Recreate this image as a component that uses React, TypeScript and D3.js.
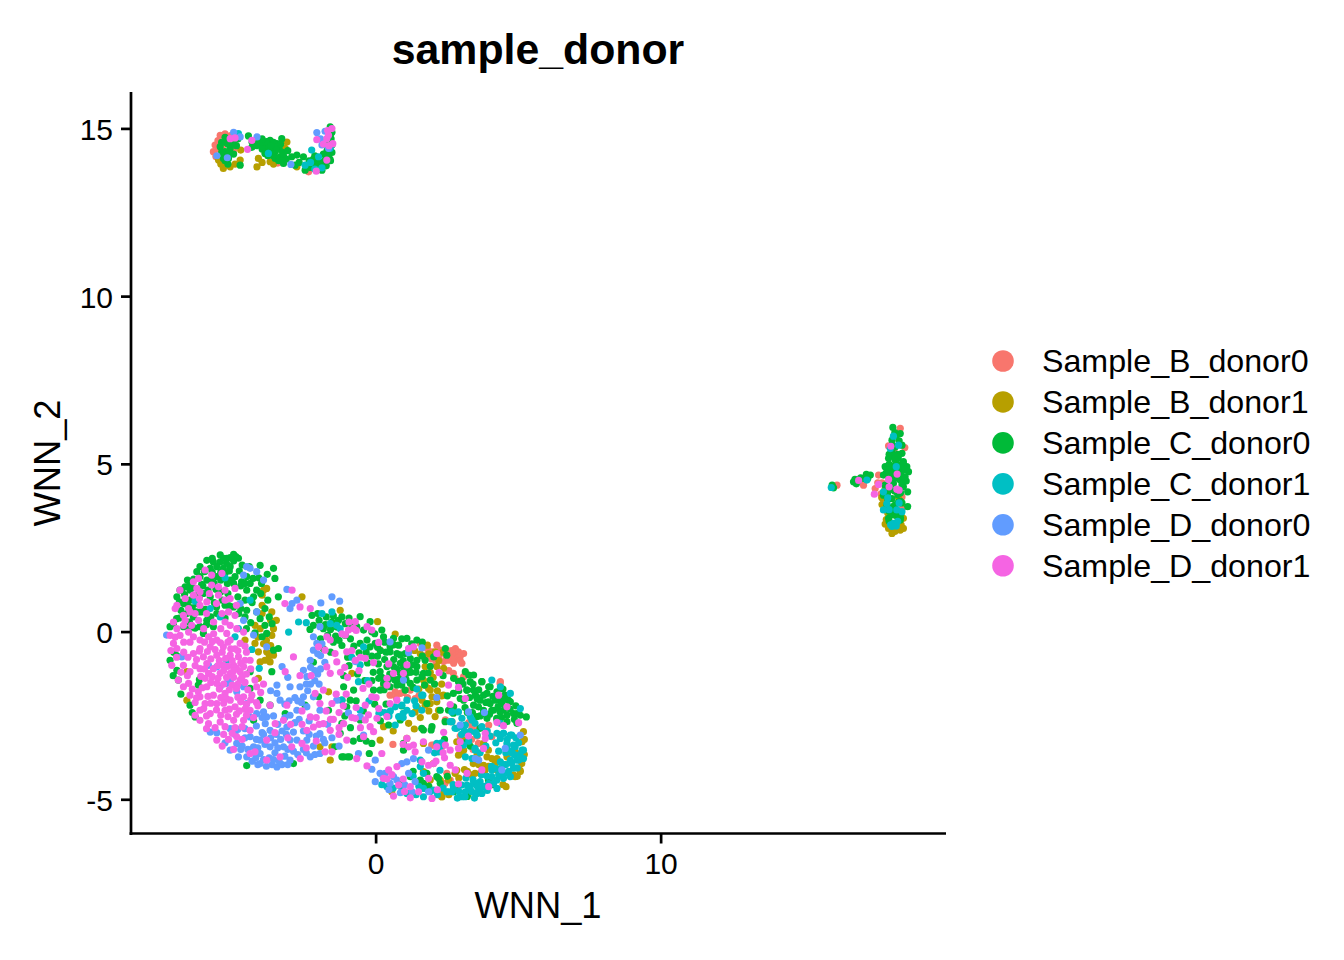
import * as d3 from "d3";

const seriesNames = [
  "Sample_B_donor0",
  "Sample_B_donor1",
  "Sample_C_donor0",
  "Sample_C_donor1",
  "Sample_D_donor0",
  "Sample_D_donor1",
];
const seriesColors = ["#F8766D", "#B79F00", "#00BA38", "#00BFC4", "#619CFF", "#F564E3"];
const xTickValues = [0, 10];
const yTickValues = [-5, 0, 5, 10, 15];

type Pt = [number, number];

const sampleB0: Pt[] = [
  [2.72,-.64],[2.89,-.59],[3.07,-.64],[2.83,-.79],[3.01,-.93],[2.72,-.93],[2.78,-.49],[2.13,-.39],[2.25,-.54],[1.96,-.59],
  [2.37,-.88],[2.54,-.84],[1.55,-.34],[.14,-.54],[.85,-1.83],[.49,-1.88],[.67,-1.78],[1.2,-1.73],[1.37,-1.98],[2.43,-2.62],
  [.59,-3.35],[4.36,-1.48],[3.95,-2.77],[3.6,-2.87],[3.36,-2.87],[5.06,-3.62],[2.6,-4.41],[2.48,-4.21],[2.31,-3.42],[2.02,-3.37],
  [2.66,-2.67],[2.6,-.75],[2.95,-.72],[2.45,-.7],[1.8,-.5],[2.71,-1.23],[3.07,-1.33],[2.77,-1.38],[4.35,-1.53],[3.24,-3.02],
  [3.59,-3.32],[1.95,-3.37],[4.06,-3.12],[2.42,-4.51],[2.55,-1.15],[3.25,-2.7],[2.95,-3.1],[.25,-1.65],[.7,-1.95],
  [2.65,-.55],[2.5,-.55],[2.95,-.85],[2.65,-.78],[2.2,-.72],[1.95,-.8],[2.1,-.95],[.95,-1.8],[1.5,-1.9],[1.1,-1.95],
  [3.35,-3.2],[3.55,-3.1],[3.4,-3.5],[1.75,-.7],
  [-5.65,14.52],[-5.47,14.81],[-5.71,14.32],[-5.0,14.37],[-2.37,13.72],[-2.26,13.92],[-3.6,14.22],[-5.4,14.45],[-5.55,14.65],[-5.62,14.18],[-3.45,13.98],
  [-5.55,14.4],[-5.3,14.85],[-5.1,14.8],
  [17.63,4.68],[17.51,4.28],[18.39,6.07],[17.1,4.38],[18.45,4.03],[17.8,3.93],[16.17,4.38],[18.21,5.33],[17.6,4.45],[17.72,4.12],[18.46,3.7],
  [17.75,4.45],[18.35,4.2],[18.55,5.5],[17.98,5.55],
];

const sampleB1: Pt[] = [
  [.05,.31],[.67,-.06],[1.8,-.39],[2.07,-.59],[2.37,-1.08],[2.13,-1.03],[1.72,-1.03],[1.66,-1.43],[1.84,-1.68],[1.96,-1.93],
  [1.61,-2.03],[2.19,-2.33],[2.07,-2.52],[1.37,-2.38],[1.14,-2.72],[.26,-2.82],[.14,-3.22],[1.34,-2.89],[-.85,-1.23],[1.66,-3.32],
  [1.08,-3.17],[2.83,-3.27],[3.07,-3.52],[3.54,-3.67],[3.89,-3.72],[4.24,-3.77],[4.59,-3.72],[5.12,-3.27],[5.17,-2.97],[5.12,-3.82],
  [5.06,-4.16],[4.82,-4.26],[4.24,-4.11],[3.65,-4.21],[3.77,-3.97],[3.36,-4.26],[2.54,-4.41],[2.31,-4.91],[.55,-4.76],[2.37,-4.76],
  [3.07,-3.22],[1.9,-1.2],[1.5,-1.7],[2.3,-1.9],[1.72,-2.18],[1.9,-2.13],[2.13,-2.08],[2.36,-1.88],[1.72,-1.58],[1.9,-1.73],
  [3.77,-3.32],[3.94,-3.52],[4.06,-3.77],[4.18,-3.92],[4.88,-3.57],[5.11,-3.92],[5.05,-4.12],[4.88,-4.31],[4.56,-4.61],[3.82,-4.12],
  [3.47,-4.21],[2.77,-4.21],[2.3,-4.91],[3.24,-4.81],[2.89,-3.67],[3.0,-3.62],[3.41,-3.92],[2.83,-4.12],[2.25,-4.41],[1.66,-4.16],
  [2.01,-3.92],[1.9,-4.41],[2.2,-.85],[1.55,-.65],[2.0,-1.35],[1.45,-2.25],[.6,-2.95],
  [4.95,-4.3],[5.2,-3.65],[5.2,-3.2],[3.95,-4.0],[3.6,-3.95],[3.1,-4.1],[2.9,-4.35],[3.2,-4.15],[4.45,-4.55],[2.55,-4.85],
  [1.55,-2.55],[1.85,-2.35],[2.15,-1.75],[2.3,-1.55],[1.85,-.65],[2.35,-.6],[1.35,-.55],
  [-3.95,1.25],[-3.84,1.3],[-4.0,.8],[-3.66,.6],[-4.25,.2],[-4.07,.1],[-3.6,.1],[-3.66,-.1],[-4.6,-.24],[-4.25,-.34],
  [-4.13,-.59],[-3.84,-.59],[-3.6,-.69],[-3.9,-.84],[-4.07,-.89],[-3.72,-.89],[-4.13,-1.38],[-1.61,-3.82],[-2.6,1.05],[-1.26,.65],
  [-6.64,-1.18],[-6.64,-2.03],[-1.67,-1.78],[-1.97,-3.42],[-1.55,-3.42],[-3.95,-.35],[-3.75,-.7],[-4.0,1.1],[-3.5,.35],
  [-4.0,.55],[-3.7,.35],[-3.85,-.25],[-3.7,-.4],[-4.15,-.15],
  [-5.53,14.07],[-5.36,13.82],[-5.12,13.87],[-4.75,14.37],[-4.77,14.07],[-4.18,13.87],[-4.13,14.12],[-3.72,14.02],[-3.13,14.61],[-3.19,14.42],[-2.78,13.87],[-5.45,13.95],[-4.0,14.0],[-3.6,13.95],
  [-5.25,13.95],[-4.95,13.95],
  [17.86,3.22],[18.1,2.94],[18.5,3.09],[17.74,4.01],[17.86,4.28],[18.33,4.03],[18.5,3.39],[17.98,3.09],[18.39,3.04],[18.2,3.0],[18.42,3.2],[17.95,3.55],
  [18.1,3.2],[18.3,3.08],[17.9,3.35],[17.75,3.8],[18.35,3.3],
];

const sampleC0: Pt[] = [
  [-5.94,2.14],[-5.71,2.09],[-5.47,2.3],[-5.47,2.09],[-5.24,2.2],[-5.0,2.32],[-5.0,2.12],[-4.83,2.2],[-5.12,1.95],[-5.36,1.9],
  [-5.59,1.95],[-5.82,1.9],[-6.18,1.95],[-6.29,1.8],[-6.53,1.45],[-6.7,1.35],[-6.82,1.25],[-6.53,1.25],[-6.18,1.65],[-5.94,1.55],
  [-5.59,1.65],[-5.3,1.75],[-4.95,1.65],[-4.54,1.65],[-4.07,1.99],[-3.6,1.9],[-3.55,1.6],[-3.43,1.05],[-4.42,1.45],[-4.19,1.25],
  [-4.54,1.25],[-4.54,.65],[-4.19,.6],[-3.9,.7],[-4.07,.4],[-3.9,.2],[-3.84,-.04],[-3.6,-.54],[-3.43,-.49],[-3.66,-1.18],
  [-4.42,-1.18],[-4.0,-.14],[-6.88,1.25],[-6.99,1.05],[-6.76,.85],[-6.53,.95],[-6.29,.85],[-6.06,1.15],[-5.82,1.05],[-6.64,.55],
  [-6.41,.45],[-7.11,.25],[-7.23,.16],[-6.76,.16],[-6.18,.16],[-5.94,.35],[-5.59,.55],[-6.06,-.04],[-5.71,.16],[-7.23,-.84],
  [-6.99,-1.14],[-6.94,-1.43],[-6.24,-1.58],[-6.53,-2.18],[-6.35,-2.53],[-4.54,-3.98],[-2.9,-3.92],[-4.42,-1.68],[-4.07,-2.03],[-3.72,-2.18],
  [-2.49,-2.18],[-3.19,-2.43],[-4.3,-2.63],[-2.2,-.9],[-2.02,-1.93],[-1.2,-2.03],[-1.67,-2.33],[-1.45,-3.42],[-1.2,-3.72],[-1.0,-3.72],
  [-2.2,.2],[-2.0,.35],[-1.85,.1],[-1.7,-.1],[-1.55,.3],[-1.38,.15],[-1.2,.45],[-1.08,-.1],[-1.5,-.3],[-1.2,-.4],
  [-1.85,-.5],[-1.6,-.6],[-1.0,-.75],[-1.14,-1.3],
  [-5.75,2.2],[-5.35,2.2],[-5.12,2.22],[-4.92,2.25],[-5.25,2.05],[-4.7,2.0],[-4.45,1.95],[-6.02,1.8],[-5.75,1.78],[-5.45,1.78],
  [-5.15,1.82],[-4.8,1.82],[-6.4,1.58],[-5.78,1.52],[-5.12,1.55],[-4.72,1.5],[-4.12,1.62],[-3.82,1.72],[-6.62,1.55],[-6.08,1.38],
  [-5.62,1.28],[-5.22,1.45],[-4.75,1.38],[-4.02,1.45],[-6.2,1.05],[-6.6,.78],[-6.0,.68],[-5.68,.88],[-5.4,.95],[-5.15,.78],
  [-4.85,1.05],[-4.6,.95],[-4.35,.88],[-6.3,.6],[-5.8,.45],[-5.3,.42],[-4.82,.55],[-4.4,.28],[-4.25,-.02],[-4.55,.1],
  [-6.9,.42],[-6.55,.3],[-6.35,.12],[-7.0,-.7],[-7.12,-1.3],[-6.85,-1.85],[-6.2,-1.42],[-6.45,-2.4],
  [-6.9,.9],[-6.72,1.12],[-6.45,1.32],[-6.3,1.08],[-6.12,1.42],[-5.9,1.25],[-5.68,1.45],[-5.45,1.55],[-5.45,1.2],[-5.2,1.15],
  [-5.0,1.45],[-4.6,1.45],[-4.32,1.6],[-4.3,1.05],[-4.05,1.15],[-3.8,.95],[-3.75,.45],[-3.65,.25],[-6.85,.65],[-6.45,.72],
  [-6.15,.6],[-5.95,.22],[-5.6,.75],[-5.3,.8],[-5.0,.75],[-4.75,.7],[-4.6,.45],[-6.55,.1],[-7.0,.4],[-7.1,-.6],
  [-2.25,.5],[-2.05,.55],[-1.75,.45],[-1.5,.48],[-1.32,.35],[-1.95,-.2],[-1.78,.22],[-1.6,.08],[-1.42,-.12],[-1.3,-.25],
  [-1.08,.25],[-.95,.42],[-.85,.18],[-.9,-.2],[-.78,-.42],[-.6,-.62],[-.35,-.6],[-.15,-.72],[-2.32,.08],
  [-.56,.46],[-.21,.31],[-.68,.16],[-.44,.06],[-.15,.01],[.2,.06],[.26,-.14],[.61,-.19],[1.08,-.19],[1.43,-.24],
  [-.32,-.24],[-.56,-.34],[-.21,-.44],[-.03,-.34],[.49,-.44],[.79,-.39],[.73,-.64],[.49,-.59],[1.02,-.64],[1.2,-.79],
  [1.43,-.84],[1.72,-.84],[2.02,-.74],[2.43,-.49],[2.48,-.69],[.85,-.93],[.61,-1.03],[.38,-1.03],[.14,-1.18],[.09,-1.38],
  [.26,-1.53],[-.09,-1.73],[.14,-1.73],[.85,-1.23],[1.08,-1.23],[1.43,-1.03],[1.66,-1.23],[1.9,-1.43],[1.61,-1.33],[1.2,-1.53],
  [1.43,-1.43],[1.02,-1.73],[.49,-1.63],[.73,-1.58],[3.13,-1.18],[3.42,-1.28],[2.72,-1.38],[2.89,-1.48],[3.71,-1.48],[3.95,-1.63],
  [3.19,-1.73],[3.48,-1.88],[3.89,-1.83],[4.24,-1.78],[3.65,-2.03],[4.0,-2.13],[4.36,-2.03],[4.71,-2.08],[3.42,-2.18],[3.77,-2.33],
  [4.12,-2.33],[4.47,-2.33],[4.82,-2.43],[5.06,-2.48],[5.27,-2.53],[3.07,-2.03],[2.72,-2.23],[4.24,-2.62],[3.89,-2.57],[3.54,-2.52],
  [4.59,-2.67],[4.94,-2.72],[2.25,-2.33],[1.78,-2.13],[-.56,-2.62],[-1.26,-3.02],[-1.2,-2.72],[-.91,-2.03],[-.79,-1.73],[-1.14,-1.63],
  [-1.03,-2.23],[-.56,-3.17],[-.15,-3.32],[-1.14,-3.72],[-.93,-3.72],[-.24,-3.62],[.96,-3.32],[.96,-3.52],[.14,-2.38],[.44,-2.77],
  [.85,-2.62],[1.96,-2.82],[1.66,-2.92],[3.95,-4.41],[2.72,-4.76],[1.78,-4.21],[2.13,-4.31],[1.55,-4.41],[1.2,-4.31],[1.66,-4.51],
  [2.25,-4.51],[3.41,-1.73],[3.53,-1.93],[3.77,-1.88],[3.94,-2.08],[4.18,-2.03],[4.41,-2.13],[4.64,-2.03],[4.06,-2.33],[4.35,-2.38],
  [4.59,-2.48],[4.94,-2.43],[3.59,-2.23],[3.77,-2.43],[4.23,-2.57],[3.3,-1.48],[3.71,-1.48],[4.0,-1.63],[3.18,-1.73],[2.71,-1.83],
  [2.95,-1.98],[2.54,-2.33],[2.71,-2.42],[2.42,-2.67],[1.6,-2.87],[1.93,-2.92],[3.65,-2.87],[2.19,-4.36],[2.83,-4.71],[3.94,-4.41],
  [.3,-.3],[.62,-.38],[.9,-.2],[1.25,-.35],[1.62,-.3],[.05,-.72],[.3,-.82],[.62,-.82],[.95,-.85],[1.28,-.98],
  [1.62,-.72],[1.9,-1.02],[.2,-1.35],[.48,-1.25],[.72,-1.1],[.95,-1.05],[1.22,-1.2],[1.82,-1.22],[.42,-1.42],[.65,-1.42],
  [.9,-1.58],[1.05,-1.42],[1.3,-1.65],[.28,-1.72],[-.1,-1.2],[-.3,-.92],[.08,-.95],[-.15,-1.45],[3.0,-1.45],[3.28,-1.95],
  [3.12,-2.25],[3.38,-2.4],[3.98,-2.45],[4.52,-1.88],[4.28,-2.22],[4.7,-2.3],[3.6,-1.72],[3.25,-1.28],
  [-.65,-1.25],[-.4,-1.45],[-.95,-1.0],[-1.1,-2.5],[-.9,-2.85],[-.7,-2.05],[-.45,-2.35],[-.8,-3.25],[-.35,-3.25],[.35,-2.15],
  [.15,-2.65],[.9,-2.2],[-.05,-2.15],[1.15,-.5],[.85,-.68],[.15,-.55],[-.05,-.05],[.05,-.45],[.35,-.6],[.55,-1.3],
  [.8,-1.4],[1.15,-1.05],[1.4,-1.2],[1.7,-1.58],[2.05,-1.55],[2.35,-1.3],[2.5,-1.9],[2.9,-1.75],[3.05,-1.55],[3.4,-1.55],
  [3.55,-2.0],[3.65,-2.5],[3.2,-2.4],[4.45,-1.7],[4.9,-2.2],[4.85,-2.6],[4.4,-2.55],[4.1,-1.92],[3.85,-2.1],[4.55,-2.0],
  [3.15,-3.3],[4.1,-4.55],[2.5,-4.3],[3.2,-4.9],[3.3,-3.4],[.85,-4.55],[1.3,-4.15],[1.85,-4.6],[2.4,-3.2],
  [-5.47,14.47],[-5.3,14.32],[-5.12,14.42],[-5.36,14.12],[-5.18,14.12],[-4.77,13.92],[-4.48,14.79],[-4.13,14.66],[-3.95,14.52],[-3.72,14.66],
  [-3.48,14.56],[-3.31,14.71],[-3.78,14.42],[-3.54,14.32],[-3.37,14.17],[-3.54,14.12],[-3.25,13.97],[-2.96,14.17],[-2.78,14.22],[-2.55,14.17],
  [-2.84,13.92],[-2.49,13.77],[-2.14,13.92],[-1.9,13.77],[-1.79,14.07],[-1.67,14.22],[-1.55,14.52],[-1.61,14.81],[-1.61,15.06],[-4.36,14.45],
  [-3.9,14.27],[-5.3,14.6],[-5.05,14.65],[-4.9,14.5],[-5.2,13.95],[-3.6,14.45],[-2.2,14.1],[-5.42,14.3],[-5.2,14.55],[-5.0,14.25],
  [-4.05,14.55],[-3.85,14.62],[-3.6,14.6],[-3.4,14.4],[-3.28,14.3],[-3.15,14.1],[-3.62,14.2],[-3.85,14.3],[-3.42,14.05],[-2.35,14.05],
  [-2.05,14.05],[-1.7,14.5],[-1.65,14.65],[-1.72,14.35],[-1.55,14.9],[-1.9,14.0],[-1.62,14.1],
  [-5.3,14.75],[-5.15,14.3],[-5.0,14.55],[-4.85,14.7],[-5.42,14.6],[-5.3,14.05],[-4.35,14.6],[-4.2,14.5],[-4.0,14.4],[-3.8,14.2],
  [-3.65,14.3],[-3.5,14.45],[-3.35,14.55],[-3.7,14.5],[-4.0,14.7],[-3.25,14.2],[-3.1,14.35],[-3.3,14.05],[-2.7,14.0],[-2.3,13.85],
  [-2.15,14.2],[-1.85,14.25],[-2.0,13.95],[-1.75,13.9],[-1.6,14.05],[-1.55,14.3],[-1.58,14.7],
  [16.01,4.33],[16.75,4.48],[17.1,4.58],[17.34,4.68],[18.13,6.1],[18.39,5.92],[18.1,5.72],[18.45,5.57],[18.21,5.52],[18.45,5.33],
  [17.98,5.18],[18.21,5.13],[18.5,5.08],[17.86,4.93],[18.62,4.93],[18.1,4.88],[18.39,4.78],[18.68,4.78],[17.8,4.68],[17.98,4.58],
  [18.56,4.63],[18.39,4.53],[18.15,4.43],[18.5,4.33],[18.65,4.18],[17.86,4.38],[17.8,4.08],[18.1,3.98],[18.33,3.88],[18.65,3.74],
  [17.92,3.79],[18.1,3.64],[17.98,3.39],[18.39,3.34],[18.15,3.49],[18.3,5.0],[18.1,5.35],[18.0,5.0],[18.3,4.6],[18.0,3.6],
  [18.25,5.85],[18.35,5.7],[18.3,5.3],[18.05,5.3],[18.48,4.9],[18.2,4.95],[17.95,4.85],[18.0,4.72],[18.2,4.65],[18.45,4.4],
  [17.95,4.15],[18.2,4.2],[18.22,3.8],[18.25,3.5],[16.9,4.5],[17.0,4.6],[17.25,4.58],[16.85,4.42],[18.42,3.55],
  [18.2,5.95],[18.15,5.55],[18.1,5.45],[18.32,5.2],[18.2,5.25],[18.0,5.3],[18.05,4.95],[18.5,5.0],[18.55,4.85],[18.3,4.85],
  [18.15,4.75],[17.9,4.75],[18.6,4.5],[18.15,4.55],[18.45,4.65],[18.4,4.15],[18.3,4.1],[18.05,4.25],[18.4,3.9],[18.15,3.75],
  [18.28,3.45],[18.4,3.4],[17.95,3.95],[18.0,3.3],[18.45,3.85],[17.2,4.7],[16.8,4.55],[16.05,4.3],[16.0,4.38],
];

const sampleC1: Pt[] = [
  [4.06,-1.43],[4.36,-1.63],[4.71,-1.83],[5.06,-2.28],[1.08,-2.03],[.9,-2.18],[.67,-2.23],[1.08,-2.33],[1.26,-2.43],[.79,-2.52],
  [.67,-2.77],[1.43,-1.7],[1.64,-1.88],[2.89,-2.38],[2.66,-2.67],[3.01,-2.57],[2.83,-2.87],[3.13,-2.77],[3.36,-2.62],[3.3,-2.97],
  [3.54,-3.07],[4.24,-3.02],[4.47,-3.02],[4.71,-3.07],[4.36,-3.17],[4.88,-3.42],[4.59,-3.42],[5.12,-3.52],[5.0,-3.82],[4.71,-3.82],
  [4.36,-3.87],[4.82,-4.06],[4.06,-4.11],[4.47,-4.21],[4.24,-4.41],[4.71,-4.31],[3.95,-4.51],[3.65,-4.46],[3.42,-4.51],[3.19,-4.56],
  [3.13,-4.76],[3.54,-4.81],[3.01,-4.91],[4.24,-4.66],[2.25,-3.42],[2.19,-3.57],[1.55,-4.01],[1.55,-3.82],[.38,-4.61],[1.66,-4.21],
  [2.02,-4.71],[1.66,-4.91],[1.08,-4.81],[2.48,-4.76],[2.66,-4.76],[3.48,-3.52],[3.13,-3.72],[-.56,-.98],[-.62,-1.48],[-.44,-.44],
  [-.56,-2.33],[2.66,-2.38],[3.6,-4.7],[3.8,-4.6],[3.3,-4.65],[4.5,-3.95],[4.85,-3.65],[4.6,-3.2],[3.9,-2.95],
  [3.3,-2.52],[3.47,-2.72],[3.71,-2.82],[4.35,-2.72],[4.47,-3.02],[4.76,-3.07],[4.94,-3.82],[5.17,-3.52],[5.17,-3.77],[4.76,-3.92],
  [4.53,-4.21],[4.06,-4.31],[3.53,-4.51],[3.24,-4.61],[3.0,-4.56],[3.36,-4.76],[3.77,-4.61],[4.12,-4.51],[4.47,-4.36],[3.71,-4.81],
  [3.12,-4.91],[2.54,-4.76],[2.71,-4.66],[1.66,-4.66],[2.24,-4.12],[2.13,-3.32],[2.95,-2.82],[2.77,-2.87],[2.6,-2.67],[3.07,-3.37],
  [3.47,-3.47],[3.36,-3.77],[4.59,-3.32],[4.82,-3.37],[4.35,-4.07],[4.18,-4.07],[1.6,-1.88],[1.6,-2.33],[.5,-2.35],[.95,-2.42],
  [1.4,-2.2],[3.9,-4.3],[3.4,-4.4],[2.9,-4.75],[4.95,-4.05],[4.55,-3.6],[4.3,-3.55],[4.75,-3.55],[4.2,-3.3],[3.65,-3.6],
  [3.1,-2.95],[3.5,-3.0],[4.0,-3.1],[4.9,-3.15],[5.0,-3.3],[5.05,-3.65],[4.75,-3.6],[4.55,-3.95],[4.65,-4.15],[4.3,-4.25],
  [4.05,-4.0],[3.7,-4.25],[3.55,-4.6],[3.9,-4.72],[3.45,-4.95],[2.85,-4.95],[2.7,-4.55],[3.15,-4.35],[2.35,-4.65],[2.15,-4.85],
  [1.9,-4.75],[1.4,-4.85],[.85,-4.6],[.6,-4.65],[1.3,-4.3],[1.5,-4.6],[.2,-4.55],[2.05,-3.6],[2.3,-3.3],[3.0,-3.05],
  [3.25,-3.25],[3.85,-3.4],[.95,-2.55],[1.35,-2.05],[.45,-2.5],[.3,-2.4],[-.3,-1.45],[-.85,-.75],[.1,-2.42],[-.25,-2.05],
  [-6.35,.92],[-5.3,1.62],[-5.82,.7],[-5.47,.45],[-4.83,.1],[-4.95,-.14],[-4.36,-.52],[-4.1,-1.08],[-5.24,-.84],[-4.42,.95],
  [-2.72,.3],[-2.45,.28],[-3.07,.0],[-1.55,.6],[-1.38,.2],[-1.26,.1],[-1.61,.25],[-1.9,.55],[-1.2,-2.03],
  [-4.83,14.86],[-3.78,14.27],[-2.26,14.37],[-2.02,14.17],[-2.49,13.92],[-1.9,13.84],[-1.61,14.42],[-2.3,14.0],[-2.15,13.8],
  [18.15,5.84],[18.33,5.57],[18.04,5.47],[18.25,4.93],[17.22,4.53],[15.97,4.31],[17.8,4.18],[17.92,3.83],[17.8,3.64],[18.45,3.59],
  [18.27,3.64],[18.25,3.16],[18.15,3.24],[18.05,3.2],[17.95,4.0],[18.3,3.3],[18.35,3.85],[18.0,3.65],[18.1,3.15],
];

const sampleD0: Pt[] = [
  [.49,-.29],[1.14,-.61],[1.61,-.47],[-.73,-.88],[.96,-1.43],[2.13,-1.95],[3.24,-2.38],[2.95,-2.77],[-.97,-2.41],[-.56,-2.52],
  [-.44,-3.07],[-.62,-3.62],[-.03,-3.82],[-.15,-4.09],[-.03,-4.46],[.14,-4.21],[.32,-4.21],[.61,-4.31],[.9,-3.92],[1.08,-3.87],
  [1.31,-3.77],[1.84,-3.52],[3.48,-3.77],[5.06,-3.07],[4.53,-3.47],[4.41,-4.11],[3.6,-3.82],[.85,-4.79],[1.37,-4.46],[.73,-4.41],
  [1.14,-4.21],[1.84,-4.76],[.49,-4.51],[1.26,-4.76],[3.8,-2.4],[.25,-4.35],[.45,-4.7],[1.0,-4.55],
  [-4.54,1.95],[-4.19,1.8],[-3.95,1.55],[-4.65,1.7],[-4.42,1.9],[-3.13,1.27],[-2.78,.95],[-2.95,.85],[-3.02,.7],[-1.55,1.05],
  [-1.28,.92],[-1.94,.87],[-1.97,.16],[-2.2,-.14],[-2.08,-.34],[-2.2,-.54],[-2.31,-.84],[-2.55,-1.14],[-2.43,-1.33],[-2.67,-1.63],
  [-3.02,-1.63],[-3.48,-1.58],[-3.48,-1.83],[-3.3,-1.03],[-3.37,-2.03],[-2.55,-1.93],[-2.2,-1.93],[-2.43,-2.23],[-2.78,-2.33],[-3.02,-2.48],
  [-3.95,-2.38],[-4.19,-2.43],[-3.84,-2.53],[-4.42,-2.53],[-3.89,-2.73],[-3.72,-2.93],[-3.13,-2.83],[-2.9,-2.98],[-2.78,-3.22],[-3.02,-3.22],
  [-3.25,-3.42],[-3.72,-3.42],[-4.07,-3.62],[-4.3,-3.42],[-4.42,-3.12],[-4.89,-3.32],[-5.12,-3.52],[-4.83,-3.72],[-4.54,-3.72],[-4.07,-3.92],
  [-3.48,-4.02],[-3.02,-3.82],[-2.31,-3.72],[-1.97,-3.62],[-4.07,-3.22],[-4.65,-1.63],[-4.19,.6],[-4.65,.35],[-4.3,-.09],[-3.84,-.44],
  [-5.24,-1.53],[-5.47,-1.63],[-5.12,-1.48],[-4.54,-2.13],[-4.89,-1.78],[-5.59,-1.04],[-5.88,-.99],[-5.82,-2.98],[-5.59,-3.0],[-5.12,-2.88],
  [-4.6,-2.88],[-7.35,-.09],[-6.82,-.74],[-4.77,.85],[-1.38,-2.03],[-1.97,-3.03],[-2.43,-3.22],[-1.97,-2.33],
  [-4.2,-2.8],[-4.0,-3.0],[-3.5,-3.05],[-3.45,-2.75],[-3.3,-2.95],[-3.55,-3.3],[-3.9,-3.35],[-4.15,-3.45],[-4.7,-3.4],[-4.35,-3.85],
  [-3.75,-3.75],[-3.55,-3.6],[-3.2,-3.7],[-3.65,-3.95],[-3.85,-4.0],[-3.3,-3.95],[-4.22,-3.75],[-2.9,-3.55],[-2.55,-3.5],[-2.7,-2.6],
  [-2.35,-2.65],[-2.85,-1.95],[-2.62,-2.1],[-3.2,-2.15],[-2.3,-1.55],[-2.0,-1.55],[-2.15,-1.15],[-1.95,-.7],[-1.8,-.9],[-2.05,-1.25],
  [-1.85,-3.2],[-1.55,-3.15],[-1.3,-3.4],[-2.2,-3.4],[-4.6,-3.15],[-4.95,-3.05],
  [-4.75,-3.5],[-4.5,-3.5],[-4.2,-3.2],[-3.95,-3.05],[-3.7,-3.15],[-3.45,-3.45],[-3.1,-3.5],[-3.35,-3.2],[-3.15,-3.05],[-2.85,-2.7],
  [-2.55,-2.95],[-2.35,-3.05],[-2.1,-3.1],[-1.8,-3.3],[-3.95,-3.8],[-4.15,-3.95],[-3.6,-3.8],[-3.4,-3.85],[-3.1,-3.95],[-2.75,-3.65],
  [-2.45,-3.6],[-2.15,-3.65],[-1.7,-2.75],[-2.75,-2.05],[-3.05,-2.05],[-2.4,-1.75],[-2.15,-1.45],[-1.95,-1.1],[-2.3,-1.05],[-2.05,-.65],
  [-1.9,-.35],[-2.45,-1.55],[-3.1,-1.35],[-3.7,-1.75],[-3.6,-2.5],[-3.2,-2.55],[-4.0,-2.55],[-5.3,-3.3],[-4.85,-2.9],
  [-5.59,14.2],[-5.22,14.14],[-4.77,14.76],[-4.18,14.76],[-2.08,14.89],[-1.79,14.93],[-1.9,14.52],[-1.67,14.42],[-2.99,13.94],[-5.0,14.9],[-1.95,14.7],
];

const sampleD1: Pt[] = [
  [-6.0,1.85],[-6.23,1.6],[-5.77,1.7],[-5.41,1.75],[-6.41,1.5],[-6.29,1.3],[-5.77,1.4],[-5.53,1.35],[-4.95,1.3],[-6.88,1.25],
  [-6.41,1.1],[-6.18,1.2],[-6.7,1.0],[-6.99,.8],[-7.05,.7],[-6.58,.7],[-6.18,.8],[-5.94,.9],[-5.53,1.1],[-5.3,1.25],
  [-5.12,1.0],[-6.53,.6],[-6.76,.5],[-6.23,.35],[-5.41,.55],[-5.18,.6],[-4.95,.5],[-7.11,.3],[-5.12,.2],[-6.76,.2],
  [-6.47,.2],[-7.23,-.1],[-6.99,.1],[-6.88,-.1],[-6.58,0],[-6.41,-.14],[-7.11,-.34],[-6.53,-.3],[-6.18,-.24],[-5.88,-.14],
  [-5.59,-.24],[-5.24,-.04],[-4.89,.1],[-4.65,.0],[-5.12,-.24],[-4.77,-.34],[-5.36,-.44],[-5.82,-.44],[-6.18,-.49],[-6.41,-.64],
  [-6.99,-.49],[-7.17,-.99],[-6.76,-.99],[-6.06,-.74],[-5.59,-.69],[-5.12,-.69],[-4.83,-.74],[-4.42,-.84],[-4.6,-.84],[-5.94,-.94],
  [-6.18,-1.09],[-5.71,-1.09],[-5.36,-.99],[-5.0,-.99],[-5.88,-1.23],[-5.47,-1.23],[-5.12,-1.23],[-4.77,-1.18],[-6.53,-1.18],[-6.94,-1.43],
  [-6.76,-1.63],[-6.58,-1.53],[-6.24,-1.78],[-5.94,-1.63],[-5.59,-1.53],[-6.18,-1.93],[-5.71,-1.88],[-5.3,-1.83],[-4.77,-1.43],[-4.25,-1.43],
  [-5.12,-2.03],[-4.65,-1.93],[-4.36,-1.88],[-4.19,-1.63],[-6.53,-1.88],[-6.0,-2.13],[-5.59,-2.13],[-4.95,-2.23],[-6.18,-2.33],[-5.82,-2.43],
  [-5.3,-2.33],[-4.42,-2.33],[-3.72,-2.18],[-6.18,-2.63],[-5.88,-2.73],[-5.47,-2.68],[-5.0,-2.63],[-4.65,-2.63],[-5.59,-3.22],[-5.18,-3.2],
  [-4.89,-3.12],[-4.42,-2.93],[-3.84,-3.22],[-3.54,-2.73],[-3.25,-2.63],[-3.13,-2.18],[-2.9,-.74],[-3.19,-1.18],[-2.67,-1.3],[-2.28,-1.3],
  [-1.73,-.14],[-1.61,-.24],[-2.02,-.44],[-1.79,-.54],[-1.44,-.64],[-1.38,-.89],[-1.73,-1.04],[-1.61,-1.23],[-1.85,-1.73],[-2.14,-1.83],
  [-1.55,-2.13],[-1.97,-2.13],[-2.31,-2.53],[-1.85,-2.73],[-2.2,-2.83],[-1.61,-2.93],[-1.14,-2.73],[-2.43,-2.93],[-2.6,-3.32],[-2.96,-3.42],
  [-3.37,-3.72],[-3.84,-3.82],[-4.42,-3.62],[-4.25,-3.57],[-2.66,-3.77],[-1.55,-3.57],[-1.79,-3.57],[-1.03,-3.22],[-2.95,1.25],[-3.2,.85],
  [-2.67,.75],[-2.31,.7],
  [-6.02,-.3],[-5.75,-.28],[-5.46,-.32],[-5.2,-.3],[-4.95,-.5],[-4.6,-.42],[-6.2,-.57],[-5.92,-.58],[-5.65,-.52],[-5.4,-.6],
  [-5.1,-.5],[-4.85,-.56],[-4.55,-.6],[-6.3,-.82],[-5.8,-.8],[-5.5,-.85],[-5.28,-.78],[-5.05,-.85],[-4.75,-.92],[-6.35,-1.0],
  [-5.55,-1.0],[-5.2,-1.02],[-4.9,-1.08],[-4.65,-1.03],[-5.35,-1.15],[-5.0,-1.15],[-6.0,-1.38],[-5.75,-1.33],[-5.55,-1.38],[-5.25,-1.35],
  [-5.0,-1.35],[-4.7,-1.32],[-5.8,-1.5],[-5.35,-1.55],[-5.05,-1.58],[-4.85,-1.55],[-4.6,-1.5],[-6.45,-1.7],[-6.1,-1.66],[-5.5,-1.7],
  [-5.15,-1.72],[-4.9,-1.68],[-4.5,-1.72],[-6.3,-1.96],[-5.9,-1.92],[-5.45,-1.95],[-5.25,-1.98],[-4.85,-1.94],[-4.4,-2.02],[-6.35,-2.1],
  [-5.8,-2.12],[-5.35,-2.12],[-4.75,-2.08],[-4.55,-2.15],[-4.2,-2.1],[-6.05,-2.28],[-5.6,-2.32],[-5.15,-2.3],[-4.8,-2.35],[-4.6,-2.3],
  [-6.35,-2.48],[-5.95,-2.5],[-5.45,-2.48],[-5.2,-2.52],[-4.9,-2.45],[-4.55,-2.48],[-5.95,-2.88],[-5.65,-2.85],[-5.3,-2.82],[-4.95,-2.85],
  [-4.7,-2.82],[-5.35,-3.05],[-5.05,-3.02],[-6.02,-1.1],[-6.15,-1.32],[-6.85,-1.2],[-6.62,-1.3],[-7.0,-.75],[-6.75,-.6],[-6.6,-.75],
  [-7.05,-.15],[-6.75,-.3],[-7.2,-.55],[-2.0,-2.75],[-1.5,-2.6],[-1.75,-2.35],[-1.3,-2.4],[-1.4,-1.85],[-1.15,-2.2],[-1.05,-1.85],
  [-5.4,-3.4],[-5.0,-3.5],[-4.7,-3.2],[-3.55,-3.0],[-3.0,-2.75],[-2.6,-2.75],[-2.1,-2.55],[-1.6,-2.6],[-1.3,-2.85],[-3.1,-3.15],
  [-2.45,-3.45],[-2.1,-3.25],[-1.3,-3.05],[-2.6,-2.35],[-4.15,-2.2],[-4.3,-2.55],[-4.05,-1.8],[-4.55,-1.25],[-4.4,-1.1],[-3.95,-1.55],
  [-5.95,.55],[-5.7,.3],[-6.35,.55],[-6.7,.35],[-6.2,1.0],[-5.6,.85],[-5.3,.95],[-4.9,.8],[-5.85,1.15],[-5.3,.3],
  [-6.05,.1],[-5.7,-.05],[-5.45,.1],[-1.1,-1.05],[-1.25,-1.2],[-1.0,-1.35],[-.6,-1.15],[-.85,-.55],[-.55,-.75],[-.85,-2.55],
  [-.55,-2.85],[-.7,-2.25],[-.25,-1.55],[0,-1.95],[-1.2,-.05],[-.7,.05],[-.95,.3],
  [-.97,.06],[-.79,.11],[-1.08,-.09],[-.73,.31],[.09,-.31],[-.32,.16],[-.15,.06],[-.38,-.78],[-.09,-.91],[-.73,-.84],
  [-1.03,-.59],[.44,-.95],[.61,-1.23],[.96,-1.23],[.38,-1.38],[.38,-1.58],[-.46,-1.68],[-.15,-1.93],[-.38,-2.18],[.09,-2.28],
  [.49,-2.13],[.73,-2.03],[.38,-2.52],[.03,-2.57],[-.27,-2.47],[-.38,-2.62],[-.73,-2.57],[-.21,-2.82],[-.09,-2.97],[-.44,-3.12],
  [1.14,-.49],[1.31,-.44],[1.08,-.98],[2.13,-.64],[2.21,-1.21],[2.89,-1.65],[3.13,-1.98],[2.6,-2.16],[2.54,-1.58],[4.3,-1.88],
  [4.59,-2.23],[5.0,-2.7],[4.24,-2.69],[4.47,-2.79],[3.24,-3.1],[3.83,-3.02],[3.83,-3.17],[2.37,-2.99],[2.95,-3.27],[1.08,-3.17],
  [1.14,-3.42],[1.31,-3.37],[1.37,-3.57],[1.66,-3.27],[2.43,-3.37],[2.6,-3.52],[2.13,-3.42],[2.89,-3.47],[3.77,-3.47],[.2,-3.62],
  [-.68,-3.77],[-.32,-3.99],[.73,-4.01],[.44,-4.11],[1.61,-3.87],[1.84,-3.97],[2.02,-3.92],[2.6,-3.97],[2.78,-4.11],[3.19,-4.21],
  [3.71,-4.11],[.26,-4.36],[.79,-4.56],[.38,-4.38],[1.2,-4.61],[1.84,-4.36],[1.49,-4.76],[1.96,-4.96],[1.2,-4.94],[.61,-4.89],
  [2.89,-4.53],[3.95,-4.61],[.95,-3.35],[.55,-4.25],[.95,-4.38],[1.0,-4.75],[2.35,-3.6],[2.1,-3.85],[2.4,-3.75],[2.15,-4.7],
  [-5.12,14.71],[-4.95,14.73],[-4.51,14.39],[-4.36,14.66],[-2.08,14.68],[-1.73,14.71],[-1.55,15.01],[-1.67,14.81],[-1.52,14.56],[-1.73,14.07],[-2.1,13.74],
  [-1.85,14.55],[-1.65,14.5],[-1.7,14.95],
  [18.06,5.54],[18.28,4.71],[16.93,4.52],[17.63,4.4],[17.98,4.55],[18.0,4.33],[18.27,4.26],[18.35,4.23],[17.48,4.11],
];

const allSeries = [sampleB0, sampleB1, sampleC0, sampleC1, sampleD0, sampleD1];

const width = 1344;
const height = 960;
const left = 131;
const right = 945;
const top = 92;
const bottom = 833.5;
const fontFamily = "'Liberation Sans', Arial, sans-serif";

export default function App() {
  const xScale = d3.scaleLinear().domain([-8.6, 19.96]).range([left, right]);
  const yScale = d3.scaleLinear().domain([-5.99, 16.1]).range([833, top]);

  return (
    <svg
      width={width}
      height={height}
      style={{ position: "absolute", left: 0, top: 0, background: "#fff" }}
      fontFamily={fontFamily}
    >
      {/* Points */}
      {allSeries.map((pts, i) => (
        <g key={seriesNames[i]} fill={seriesColors[i]}>
          {pts.map((d, j) => (
            <circle key={j} cx={xScale(d[0])} cy={yScale(d[1])} r={3.6} />
          ))}
        </g>
      ))}

      {/* Axes */}
      <line x1={left} x2={left} y1={top} y2={bottom + 1.4} stroke="#000" strokeWidth={2.7} />
      <line x1={left - 1.4} x2={right + 1} y1={bottom} y2={bottom} stroke="#000" strokeWidth={2.7} />
      {xTickValues.map((t) => (
        <g key={t} transform={`translate(${xScale(t)},${bottom})`}>
          <line y2={10} stroke="#000" strokeWidth={2.7} />
          <text y={40} textAnchor="middle" fontSize={30}>{t}</text>
        </g>
      ))}
      {yTickValues.map((t) => (
        <g key={t} transform={`translate(${left},${yScale(t)})`}>
          <line x2={-10} stroke="#000" strokeWidth={2.7} />
          <text x={-18} y={11} textAnchor="end" fontSize={30}>{t}</text>
        </g>
      ))}

      {/* Titles */}
      <text x={538} y={64} textAnchor="middle" fontSize={42.8} fontWeight="bold">sample_donor</text>
      <text x={538} y={918} textAnchor="middle" fontSize={36.3}>WNN_1</text>
      <text
        transform={`translate(60,463) rotate(-90)`}
        textAnchor="middle"
        fontSize={36.3}
      >
        WNN_2
      </text>

      {/* Legend */}
      {seriesNames.map((name, i) => (
        <g key={name} transform={`translate(1003,${361 + i * 40.95})`}>
          <circle r={10.8} fill={seriesColors[i]} />
          <text x={39} y={11} fontSize={32.2}>{name}</text>
        </g>
      ))}
    </svg>
  );
}
